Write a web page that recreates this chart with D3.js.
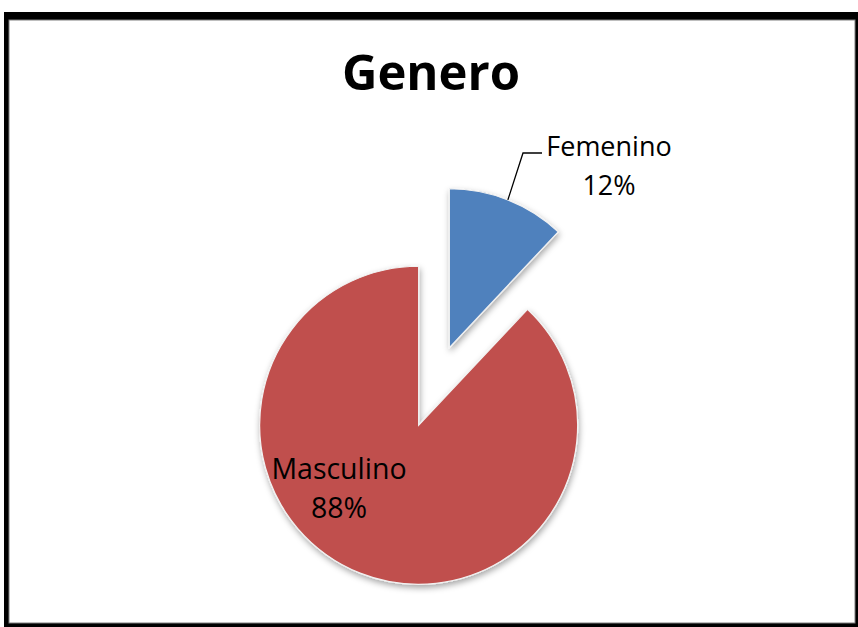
<!DOCTYPE html>
<html>
<head>
<meta charset="utf-8">
<script src="https://cdn.jsdelivr.net/npm/d3@7"></script>
<style>
  html, body { margin: 0; padding: 0; background: #fff; }
  svg { display: block; }
</style>
</head>
<body>
<div id="chart"></div>
<script>
// data
const categories = ["Femenino", "Masculino"];
const values = [12, 88];
const colors = ["#4F81BD", "#C0504D"];
const title = "Genero";

const width = 858, height = 627;

const svg = d3.select("#chart").append("svg")
    .attr("width", width)
    .attr("height", height);

// frame
svg.append("rect")
    .attr("x", 4).attr("y", 12)
    .attr("width", width - 4).attr("height", height - 12)
    .attr("fill", "#000");
svg.append("rect")
    .attr("x", 9).attr("y", 20)
    .attr("width", 846).attr("height", 603)
    .attr("fill", "#fff")
    .attr("stroke", "#7f7f7f")
    .attr("stroke-width", 1);

const defs = svg.append("defs");
const shadow = defs.append("filter")
    .attr("id", "shadow")
    .attr("x", "-20%").attr("y", "-20%")
    .attr("width", "140%").attr("height", "140%");
shadow.append("feDropShadow")
    .attr("dx", 1).attr("dy", 3)
    .attr("stdDeviation", 3)
    .attr("flood-color", "#000")
    .attr("flood-opacity", 0.35);

svg.append("text")
    .attr("x", 431)
    .attr("y", 90)
    .attr("text-anchor", "middle")
    .style("font-family", "'Open Sans', sans-serif")
    .style("font-weight", "bold")
    .style("font-size", "49px")
    .style("fill", "#000")
    .text(title);

const cx = 434, cy = 386.5, radius = 159, explode = 41.7;

const pie = d3.pie().sort(null).value(d => d);
const arcs = pie(values);

const arc = d3.arc().innerRadius(0).outerRadius(radius);

const g = svg.append("g")
    .attr("transform", "translate(" + cx + "," + cy + ")");

function offset(d) {
    const a = (d.startAngle + d.endAngle) / 2;
    return [explode * Math.sin(a), -explode * Math.cos(a)];
}

g.selectAll("path.slice")
    .data(arcs)
  .enter().append("path")
    .attr("class", "slice")
    .attr("d", arc)
    .attr("transform", d => "translate(" + offset(d) + ")")
    .attr("fill", (d, i) => colors[i])
    .attr("stroke", "#f2f2f2")
    .attr("stroke-width", 1.2)
    .attr("filter", "url(#shadow)");

// leader line for Femenino
const fem = arcs[0];
const mid = (fem.startAngle + fem.endAngle) / 2;
const off = offset(fem);
const start = [off[0] + radius * Math.sin(mid), off[1] - radius * Math.cos(mid)];
const elbow = [523 - cx, 153 - cy];
const end = [542 - cx, 153 - cy];
g.append("path")
    .attr("d", d3.line()([start, elbow, end]))
    .attr("fill", "none")
    .attr("stroke", "#000")
    .attr("stroke-width", 1.3);

const labelPos = [[609 - cx, 156 - cy], [339 - cx, 479 - cy]];
const labelSize = ["27px", "28.5px"];

const labels = g.selectAll("text.label")
    .data(arcs)
  .enter().append("text")
    .attr("class", "label")
    .attr("text-anchor", "middle")
    .style("font-family", "'Open Sans', sans-serif")
    .style("font-size", (d, i) => labelSize[i])
    .style("fill", "#000");

labels.append("tspan")
    .attr("x", (d, i) => labelPos[i][0])
    .attr("y", (d, i) => labelPos[i][1])
    .text((d, i) => categories[i]);
labels.append("tspan")
    .attr("x", (d, i) => labelPos[i][0])
    .attr("y", (d, i) => labelPos[i][1] + 39)
    .text(d => d.data + "%");
</script>
</body>
</html>
